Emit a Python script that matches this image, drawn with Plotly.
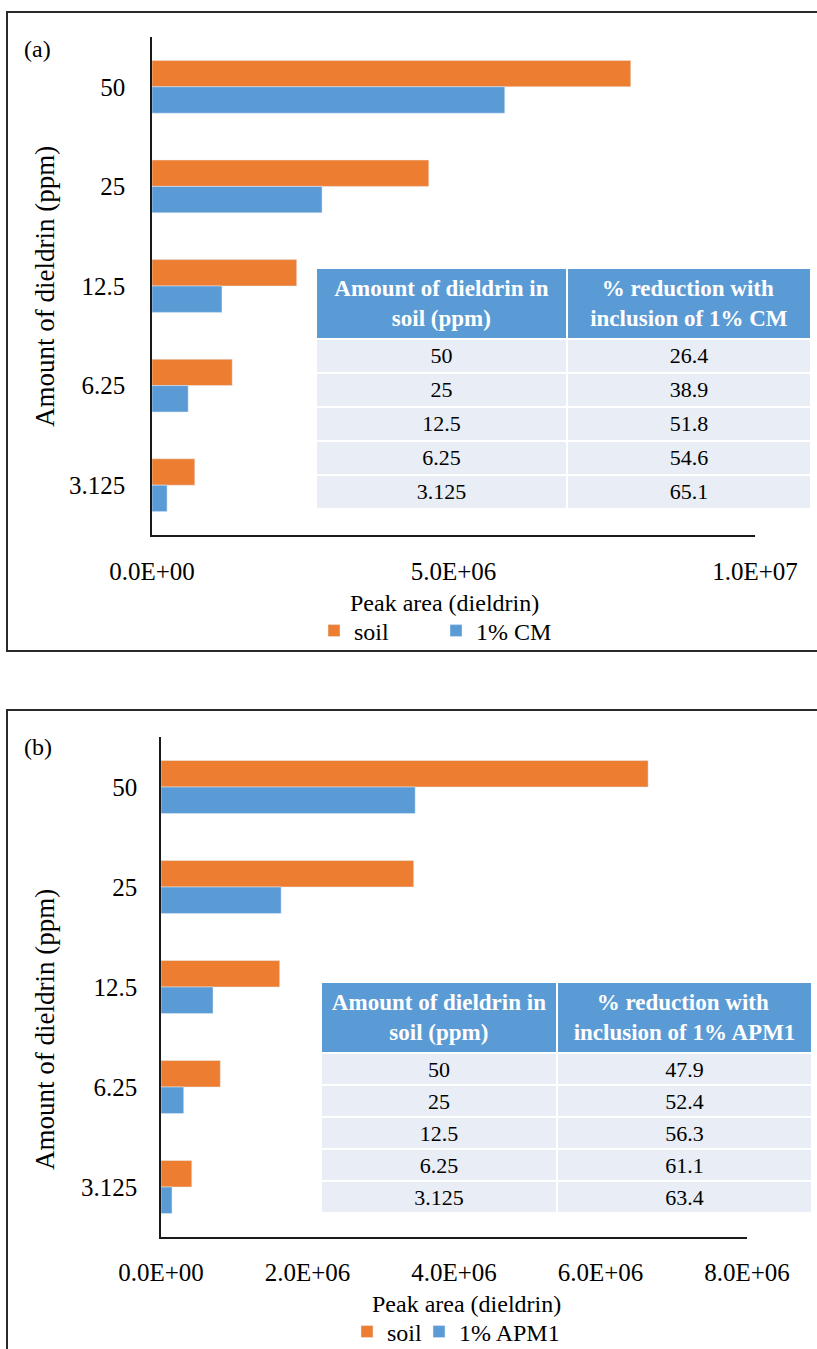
import plotly.graph_objects as go

W, H = 817, 1349
FONT = "Liberation Serif"

# Dieldrin concentrations (ppm), top to bottom
categories = ["50", "25", "12.5", "6.25", "3.125"]

# Panel (a): peak areas, soil vs soil + 1% CM
soil_a = [7.94e6, 4.59e6, 2.40e6, 1.33e6, 0.71e6]
cm_a = [5.85e6, 2.82e6, 1.16e6, 0.60e6, 0.25e6]
reduction_a = ["26.4", "38.9", "51.8", "54.6", "65.1"]
xticks_a = [0, 5e6, 1e7]
xticklabels_a = ["0.0E+00", "5.0E+06", "1.0E+07"]

# Panel (b): peak areas, soil vs soil + 1% APM1
soil_b = [6.65e6, 3.45e6, 1.62e6, 0.81e6, 0.42e6]
apm_b = [3.47e6, 1.64e6, 0.71e6, 0.31e6, 0.15e6]
reduction_b = ["47.9", "52.4", "56.3", "61.1", "63.4"]
xticks_b = [0, 2e6, 4e6, 6e6, 8e6]
xticklabels_b = ["0.0E+00", "2.0E+06", "4.0E+06", "6.0E+06", "8.0E+06"]

ORANGE = "#ED7D31"
BLUE = "#5B9BD5"
HEAD = "#5B9BD5"
CELL = "#E9EDF5"
NB = "\u00a0"  # non-breaking space, pads the shorter header line so both lines sit centred


def px_x(p):
    return p / W


def px_y(p):
    return 1 - p / H


def header(line1, line2, pad1=0, pad2=0):
    return "<b>" + NB * pad1 + line1 + "</b><br><b>" + NB * pad2 + line2 + "</b>"


fig = go.Figure()

# --- bars ---
fig.add_trace(go.Bar(y=categories, x=soil_a, orientation="h", name="soil",
                     marker_color=ORANGE, xaxis="x", yaxis="y", legend="legend"))
fig.add_trace(go.Bar(y=categories, x=cm_a, orientation="h", name="1% CM",
                     marker_color=BLUE, xaxis="x", yaxis="y", legend="legend"))
fig.add_trace(go.Bar(y=categories, x=soil_b, orientation="h", name="soil",
                     marker_color=ORANGE, xaxis="x2", yaxis="y2", legend="legend2"))
fig.add_trace(go.Bar(y=categories, x=apm_b, orientation="h", name="1% APM1",
                     marker_color=BLUE, xaxis="x2", yaxis="y2", legend="legend3"))

# --- inset tables ---
hdr_font = dict(family=FONT, size=23, color="white")
cell_font = dict(family=FONT, size=22, color="black")

fig.add_trace(go.Table(
    domain=dict(x=[px_x(316), px_x(811)], y=[px_y(530), px_y(268)]),
    columnwidth=[251, 244],
    header=dict(values=[header("Amount of dieldrin in", "soil (ppm)", pad2=10),
                        header("% reduction with", "inclusion of 1% CM", pad1=2)],
                fill_color=HEAD, line=dict(color="white", width=2),
                align="center", font=hdr_font, height=65),
    cells=dict(values=[categories, reduction_a], fill_color=CELL,
               line=dict(color="white", width=2), align="center",
               font=cell_font, height=34),
))
fig.add_trace(go.Table(
    domain=dict(x=[px_x(321), px_x(812)], y=[px_y(1230), px_y(982)]),
    columnwidth=[236, 255],
    header=dict(values=[header("Amount of dieldrin in", "soil (ppm)", pad2=10),
                        header("% reduction with", "inclusion of 1% APM1", pad1=4)],
                fill_color=HEAD, line=dict(color="white", width=2),
                align="center", font=hdr_font, height=66),
    cells=dict(values=[categories, reduction_b], fill_color=CELL,
               line=dict(color="white", width=2), align="center",
               font=cell_font, height=32),
))

axis_common = dict(showgrid=False, zeroline=False, showline=True,
                   linecolor="#1a1a1a", linewidth=1.5, ticks="",
                   automargin=False,
                   tickfont=dict(family=FONT, size=25, color="black"))

legend_common = dict(orientation="h", xanchor="left", yanchor="middle",
                     font=dict(family=FONT, size=24, color="black"),
                     bgcolor="rgba(0,0,0,0)")

fig.update_layout(
    width=W, height=H,
    margin=dict(l=0, r=0, t=0, b=0, autoexpand=False),
    paper_bgcolor="white", plot_bgcolor="white",
    barmode="group", bargap=0.47, bargroupgap=0,
    font=dict(family=FONT, color="black"),
    xaxis=dict(domain=[px_x(152), px_x(755)], anchor="y", range=[0, 1e7],
               tickvals=xticks_a, ticktext=xticklabels_a,
               ticklabelstandoff=13, **axis_common),
    yaxis=dict(domain=[px_y(535), px_y(37)], anchor="x", type="category",
               autorange="reversed", ticklabelstandoff=20, **axis_common),
    xaxis2=dict(domain=[px_x(161), px_x(747)], anchor="y2", range=[0, 8e6],
                tickvals=xticks_b, ticktext=xticklabels_b,
                ticklabelstandoff=12, **axis_common),
    yaxis2=dict(domain=[px_y(1237), px_y(737)], anchor="x2", type="category",
                autorange="reversed", ticklabelstandoff=17, **axis_common),
    legend=dict(x=px_x(314), y=px_y(631), entrywidth=77, **legend_common),
    legend2=dict(x=px_x(347), y=px_y(1332), **legend_common),
    legend3=dict(x=px_x(419), y=px_y(1332), **legend_common),
    showlegend=True,
)

# --- panel frames ---
fig.add_shape(type="rect", xref="paper", yref="paper",
              x0=px_x(7), x1=1.05, y0=px_y(651), y1=px_y(12),
              line=dict(color="#2a2a2a", width=2), layer="below")
fig.add_shape(type="rect", xref="paper", yref="paper",
              x0=px_x(7), x1=1.05, y0=-0.05, y1=px_y(710),
              line=dict(color="#2a2a2a", width=2), layer="below")

# --- titles and panel letters ---
ann_font = dict(family=FONT, size=24, color="black")
fig.add_annotation(text="(a)", x=px_x(22), y=px_y(49), xref="paper", yref="paper",
                   xanchor="left", yanchor="middle", showarrow=False, font=ann_font)
fig.add_annotation(text="(b)", x=px_x(22), y=px_y(747), xref="paper", yref="paper",
                   xanchor="left", yanchor="middle", showarrow=False, font=ann_font)
fig.add_annotation(text="Peak area (dieldrin)", x=px_x(444), y=px_y(603),
                   xref="paper", yref="paper", xanchor="center", yanchor="middle",
                   showarrow=False, font=ann_font)
fig.add_annotation(text="Peak area (dieldrin)", x=px_x(466), y=px_y(1304),
                   xref="paper", yref="paper", xanchor="center", yanchor="middle",
                   showarrow=False, font=ann_font)
ytitle_font = dict(family=FONT, size=27, color="black")
fig.add_annotation(text="Amount of dieldrin (ppm)", x=px_x(45), y=px_y(287),
                   xref="paper", yref="paper", xanchor="center", yanchor="middle",
                   textangle=-90, showarrow=False, font=ytitle_font)
fig.add_annotation(text="Amount of dieldrin (ppm)", x=px_x(45), y=px_y(1030),
                   xref="paper", yref="paper", xanchor="center", yanchor="middle",
                   textangle=-90, showarrow=False, font=ytitle_font)

fig.write_html("out.html")
